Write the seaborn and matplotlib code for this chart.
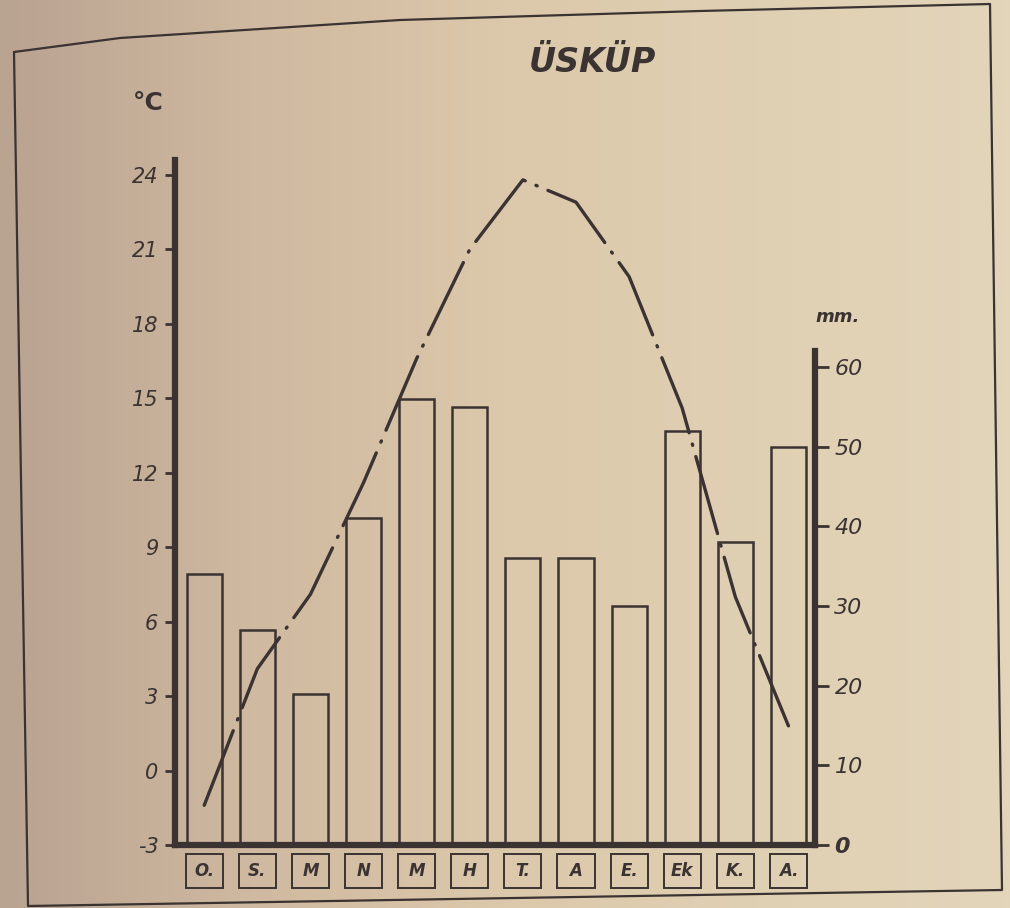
#!/usr/bin/env python3
"""
Climate chart for Usküp: monthly rainfall bars (mm) and mean temperature line (°C)
"""

import numpy as np
import pandas as pd
import matplotlib
matplotlib.use("Agg")
import matplotlib.pyplot as plt
import matplotlib.transforms as mtransforms
import seaborn as sns
from matplotlib.patches import Rectangle
from matplotlib.lines import Line2D
from matplotlib.colors import LinearSegmentedColormap

# --- data ---
months = ["O.", "S.", "M", "N", "M", "H", "T.", "A", "E.", "Ek", "K.", "A."]
temperature = [-1.4, 4.1, 7.1, 11.6, 16.6, 21.0, 23.8, 22.9, 19.9, 14.6, 7.0, 1.8]
precipitation = [34, 27, 19, 41, 56, 55, 36, 36, 30, 52, 38, 50]
temp_ticks = [-3, 0, 3, 6, 9, 12, 15, 18, 21, 24]
rain_ticks = [0, 10, 20, 30, 40, 50, 60]

INK = "#3a3332"

sns.set_theme(style="white")
plt.rcParams["font.family"] = ["DejaVu Sans"]

W, H = 1010, 908
fig = plt.figure(figsize=(W / 100, H / 100), dpi=100)

# paper background, darker on the left side of the scan
bg = fig.add_axes([0, 0, 1, 1], zorder=-10)
paper = LinearSegmentedColormap.from_list(
    "paper", ["#b9a391", "#cfb9a0", "#dcc8ab", "#e0d0b3", "#e3d5ba"])
bg.imshow(np.linspace(0, 1, 256).reshape(1, -1), aspect="auto", cmap=paper,
          extent=[0, 1, 0, 1])
bg.axis("off")

# hand-drawn frame around the chart
fx = [14, 120, 400, 700, 990, 1002, 28, 14]
fy = [52, 38, 20, 11, 4, 890, 906, 52]
fig.add_artist(Line2D([x / W for x in fx], [1 - y / H for y in fy],
                      color=INK, lw=1.6, transform=fig.transFigure))

# main axes: rainfall (right scale), twin axes: temperature (left scale)
ax = fig.add_axes([175 / W, 1 - 845 / H, 640 / W, 685 / H])
ax.patch.set_alpha(0)
tax = ax.twinx()

rain = pd.DataFrame({"month": range(12), "mm": precipitation})
sns.barplot(data=rain, x="month", y="mm", ax=ax, fill=False, color=INK,
            width=0.66, linewidth=1.8, errorbar=None)
ax.set_xlim(-0.55, 11.5)
ax.set_ylim(0, 86)
ax.set_xlabel("")
ax.set_ylabel("")
ax.yaxis.tick_right()
ax.set_yticks(rain_ticks)
ax.set_yticklabels([str(v) for v in rain_ticks], fontstyle="italic", fontsize=16, color=INK)
ax.get_yticklabels()[0].set_fontweight("bold")
ax.tick_params(axis="y", right=True, left=False, labelright=True, labelleft=False,
               direction="out", length=10, width=2, colors=INK, pad=4)
ax.set_xticks([])
for side in ["top", "left"]:
    ax.spines[side].set_visible(False)
ax.spines["bottom"].set_linewidth(4.5)
ax.spines["bottom"].set_color(INK)
ax.spines["right"].set_linewidth(4.5)
ax.spines["right"].set_color(INK)
ax.spines["right"].set_bounds(0, 62)

# boxed month labels under the axis
trans = mtransforms.blended_transform_factory(ax.transData, ax.transAxes)
for i, m in enumerate(months):
    ax.add_patch(Rectangle((i - 0.35, -0.063), 0.7, 0.05, transform=trans,
                           fill=False, ec=INK, lw=1.4, clip_on=False))
    ax.text(i, -0.038, m, transform=trans, ha="center", va="center",
            fontsize=12, fontstyle="italic", fontweight="bold", color=INK)

# temperature line
sns.lineplot(x=np.arange(12), y=temperature, ax=tax, color=INK, linewidth=2.4)
tax.lines[0].set_linestyle((0, (24, 3.5, 0.4, 3.5)))
tax.lines[0].set_dash_capstyle("round")
tax.set_xlim(-0.55, 11.5)
tax.set_ylim(-3, 24.6)
tax.yaxis.tick_left()
tax.set_yticks(temp_ticks)
tax.set_yticklabels([str(v) for v in temp_ticks], fontstyle="italic", fontsize=15, color=INK)
tax.tick_params(axis="y", left=True, right=False, labelleft=True, labelright=False,
                direction="out", length=7, width=2, colors=INK, pad=5)
tax.set_ylabel("")
for side in ["top", "right", "bottom"]:
    tax.spines[side].set_visible(False)
tax.spines["left"].set_linewidth(4.5)
tax.spines["left"].set_color(INK)

# titles and unit labels
fig.text(592 / W, 1 - 62 / H, "ÜSKÜP", ha="center", va="center", fontsize=24,
         fontweight="bold", fontstyle="italic", color=INK)
fig.text(148 / W, 1 - 103 / H, "°C", ha="center", va="center", fontsize=18,
         fontweight="bold", color=INK)
fig.text(838 / W, 1 - 317 / H, "mm.", ha="center", va="center", fontsize=13,
         fontweight="bold", fontstyle="italic", color=INK)

plt.savefig("out.png", dpi=100)
plt.close()
